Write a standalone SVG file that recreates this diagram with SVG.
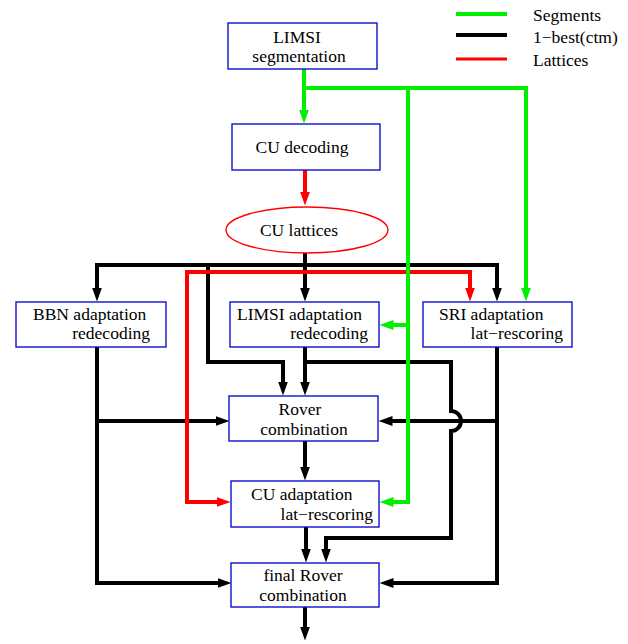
<svg xmlns="http://www.w3.org/2000/svg" width="628" height="644" viewBox="0 0 628 644" font-family="'Liberation Serif', 'Times New Roman', Times, serif">
<style>
.box{fill:#fff;stroke:#1010d0;stroke-width:1.4}
.ell{fill:#fff;stroke:#ff0000;stroke-width:1.4}
.t{font-family:'Liberation Serif','Times New Roman',Times,serif;font-size:17.5px;fill:#000}
.m{text-anchor:middle}
.e{text-anchor:end}
.k{fill:none;stroke:#000;stroke-width:4;stroke-linejoin:miter}
.r{fill:none;stroke:#ff0000;stroke-width:4}
.g{fill:none;stroke:#00ee00;stroke-width:4}
.ka{marker-end:url(#ak)}
.ra{marker-end:url(#ar)}
.ga{marker-end:url(#ag)}
</style>
<defs>
<marker id="ak" markerUnits="userSpaceOnUse" markerWidth="16" markerHeight="12" refX="0.5" refY="5" orient="auto-start-reverse"><path d="M0,0 L14,5 L0,10 z" fill="#000"/></marker>
<marker id="ar" markerUnits="userSpaceOnUse" markerWidth="16" markerHeight="12" refX="0.5" refY="5" orient="auto-start-reverse"><path d="M0,0 L14,5 L0,10 z" fill="#ff0000"/></marker>
<marker id="ag" markerUnits="userSpaceOnUse" markerWidth="16" markerHeight="12" refX="0.5" refY="5" orient="auto-start-reverse"><path d="M0,0 L14,5 L0,10 z" fill="#00ee00"/></marker>
</defs>
<g id="legend">
<line x1="456" y1="14" x2="507" y2="14" stroke="#00ee00" stroke-width="4"/>
<line x1="456" y1="35" x2="507" y2="35" stroke="#000" stroke-width="4"/>
<line x1="456" y1="59" x2="507" y2="59" stroke="#ff0000" stroke-width="3"/>
<text class="t" x="533" y="21">Segments</text>
<text class="t" x="533" y="43">1−best(ctm)</text>
<text class="t" x="533" y="66">Lattices</text>
</g>
<g id="connectors">
<path class="k ka" d="M305,253 V288"/>
<path class="k" d="M97,288 V265 H497 V288" style="marker-start:url(#ak);marker-end:url(#ak)"/>
<path class="k ka" d="M208,265 V362 H283 V382"/>
<path class="k ka" d="M305,347 V382"/>
<path class="k ka" d="M305,362 H451 V411 A10,10 0 0 1 451,431 V538 H326 V549"/>
<path class="k ka" d="M97,347 V583 H218"/>
<path class="k ka" d="M97,421 H216"/>
<path class="k ka" d="M497,347 V583 H393"/>
<path class="k ka" d="M497,421 H392"/>
<path class="k ka" d="M305,441 V467"/>
<path class="k ka" d="M306,527 V549"/>
<path class="k ka" d="M305,607 V627"/>
<path class="r ra" d="M305,170 V192"/>
<path class="r" d="M217,502 H187 V272 H470 V288" style="marker-start:url(#ar);marker-end:url(#ar)"/>
<path class="g ga" d="M304,69 V110"/>
<path class="g ga" d="M304,88 H526 V288"/>
<path class="g ga" d="M408,88 V502 H393"/>
<path class="g ga" d="M408,325 H393"/>
</g>
<g id="limsi-seg"><rect class="box" x="228" y="23" width="149" height="46"/><text class="t m" x="297" y="43">LIMSI</text><text class="t m" x="299" y="62">segmentation</text></g>
<g id="cu-decoding"><rect class="box" x="232" y="124" width="148" height="46"/><text class="t m" x="302" y="153">CU decoding</text></g>
<g id="cu-lattices"><ellipse class="ell" cx="307" cy="230" rx="81" ry="23"/><text class="t m" x="299" y="236">CU lattices</text></g>
<g id="bbn"><rect class="box" x="16" y="302" width="150" height="45"/><text class="t" x="33" y="320">BBN adaptation</text><text class="t e" x="150" y="339">redecoding</text></g>
<g id="limsi-adapt"><rect class="box" x="230" y="302" width="149" height="45"/><text class="t" x="237" y="320">LIMSI adaptation</text><text class="t e" x="368" y="339">redecoding</text></g>
<g id="sri"><rect class="box" x="423" y="302" width="149" height="45"/><text class="t" x="439" y="320">SRI adaptation</text><text class="t e" x="563" y="339">lat−rescoring</text></g>
<g id="rover"><rect class="box" x="229" y="396" width="149" height="45"/><text class="t m" x="300" y="415">Rover</text><text class="t m" x="304" y="435">combination</text></g>
<g id="cu-adapt"><rect class="box" x="231" y="481" width="148" height="46"/><text class="t" x="251" y="500">CU adaptation</text><text class="t e" x="373" y="520">lat−rescoring</text></g>
<g id="final-rover"><rect class="box" x="231" y="563" width="148" height="44"/><text class="t m" x="303" y="581">final Rover</text><text class="t m" x="303" y="601">combination</text></g>
</svg>
